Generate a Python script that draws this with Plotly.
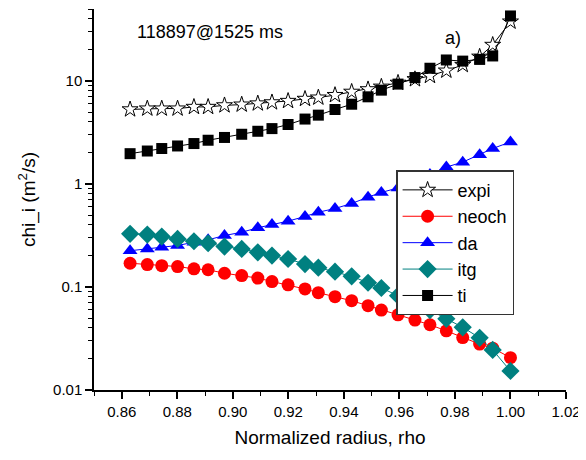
import plotly.graph_objects as go

rho = [0.8630, 0.8692, 0.8744, 0.8801, 0.8860, 0.8911, 0.8970, 0.9032, 0.9090, 0.9141,
       0.9199, 0.9260, 0.9308, 0.9368, 0.9428, 0.9487, 0.9535, 0.9595, 0.9656, 0.9710,
       0.9769, 0.9828, 0.9889, 0.9936, 1.0000]

expi = [5.3, 5.4, 5.4, 5.4, 5.6, 5.6, 5.8, 5.9, 6.05, 6.2, 6.4, 6.7, 6.9, 7.3, 7.85,
        8.3, 8.8, 9.6, 10.4, 11.2, 12.6, 14.3, 17.2, 22.4, 37.7]
neoch = [0.170, 0.165, 0.161, 0.158, 0.150, 0.147, 0.136, 0.129, 0.122, 0.113, 0.105,
         0.0957, 0.0880, 0.0805, 0.0736, 0.0658, 0.0597, 0.0537, 0.0477, 0.0430, 0.0375,
         0.0323, 0.0279, 0.0255, 0.0206]
da = [0.225, 0.234, 0.243, 0.253, 0.272, 0.287, 0.316, 0.340, 0.376, 0.404, 0.436, 0.484,
      0.532, 0.578, 0.647, 0.745, 0.828, 0.916, 1.06, 1.24, 1.46, 1.63, 1.92, 2.21, 2.56]
itg = [0.328, 0.323, 0.309, 0.293, 0.278, 0.266, 0.247, 0.234, 0.217, 0.202, 0.187, 0.167,
       0.154, 0.141, 0.127, 0.110, 0.0978, 0.0823, 0.0692, 0.0597, 0.0491, 0.0406, 0.0321,
       0.0245, 0.0153]
ti = [1.97, 2.09, 2.21, 2.34, 2.47, 2.66, 2.83, 3.04, 3.25, 3.45, 3.78, 4.27, 4.66, 5.29,
      5.95, 7.02, 8.15, 9.33, 10.8, 13.3, 16.0, 15.6, 16.2, 17.5, 42.8]

y_tickvals = [0.01, 0.1, 1, 10]
y_ticktext = ["0.01", "0.1", "1", "10"]

FONT = "Liberation Sans, Arial, Helvetica, sans-serif"

series = [
    ("expi", expi, "black", dict(symbol="star", size=12, color="white",
                                 line=dict(color="black", width=1))),
    ("neoch", neoch, "red", dict(symbol="circle", size=13, color="red",
                                 line=dict(color="red", width=0))),
    ("da", da, "blue", dict(symbol="triangle-up", size=13, color="blue",
                            line=dict(color="blue", width=0))),
    ("itg", itg, "#008080", dict(symbol="diamond", size=14, color="#008080",
                                 line=dict(color="#008080", width=0))),
    ("ti", ti, "black", dict(symbol="square", size=11, color="black",
                             line=dict(color="black", width=0))),
]

fig = go.Figure()
for name, vals, col, mk in series:
    fig.add_trace(go.Scatter(x=rho, y=vals, name=name, mode="lines+markers",
                             line=dict(color=col, width=1), marker=mk))

fig.update_layout(
    width=586, height=460,
    margin=dict(l=86, r=28, t=1, b=78, autoexpand=False),
    paper_bgcolor="white", plot_bgcolor="white",
    font=dict(family=FONT, size=15, color="black"),
    showlegend=True,
    legend=dict(x=0.64, y=0.577, xanchor="left", yanchor="top",
                bgcolor="white", bordercolor="#333333", borderwidth=1.5,
                font=dict(size=18), tracegroupgap=0, itemwidth=50),
    annotations=[
        dict(text="118897@1525 ms", x=0.087, y=0.94, xref="paper", yref="paper",
             xanchor="left", yanchor="middle", showarrow=False, font=dict(size=18)),
        dict(text="a)", x=0.761, y=0.924, xref="paper", yref="paper",
             xanchor="center", yanchor="middle", showarrow=False, font=dict(size=18)),
    ],
)

fig.update_xaxes(
    range=[0.85, 1.02], showline=True, linecolor="black", linewidth=1.5,
    showgrid=False, zeroline=False, tick0=0.86, dtick=0.02, tickformat=".2f",
    ticks="outside", ticklen=7, tickwidth=1.5, tickcolor="black", automargin=False,
    minor=dict(ticks="outside", dtick=0.01, tick0=0.85, ticklen=4, tickwidth=1.2,
               tickcolor="black", showgrid=False),
    title=dict(text="Normalized radius, rho", font=dict(size=19), standoff=12),
)
fig.update_yaxes(
    type="log", range=[-2, 1.699], showline=True, linecolor="black", linewidth=1.5,
    showgrid=False, zeroline=False, tickvals=y_tickvals, ticktext=y_ticktext,
    ticks="outside", ticklen=7, tickwidth=1.5, tickcolor="black", automargin=False,
    minor=dict(ticks="outside", dtick="D1", ticklen=4, tickwidth=1.2,
               tickcolor="black", showgrid=False),
    title=dict(text="chi_i (m<sup>2</sup>/s)", font=dict(size=19), standoff=12),
)

fig.write_html("out.html")
